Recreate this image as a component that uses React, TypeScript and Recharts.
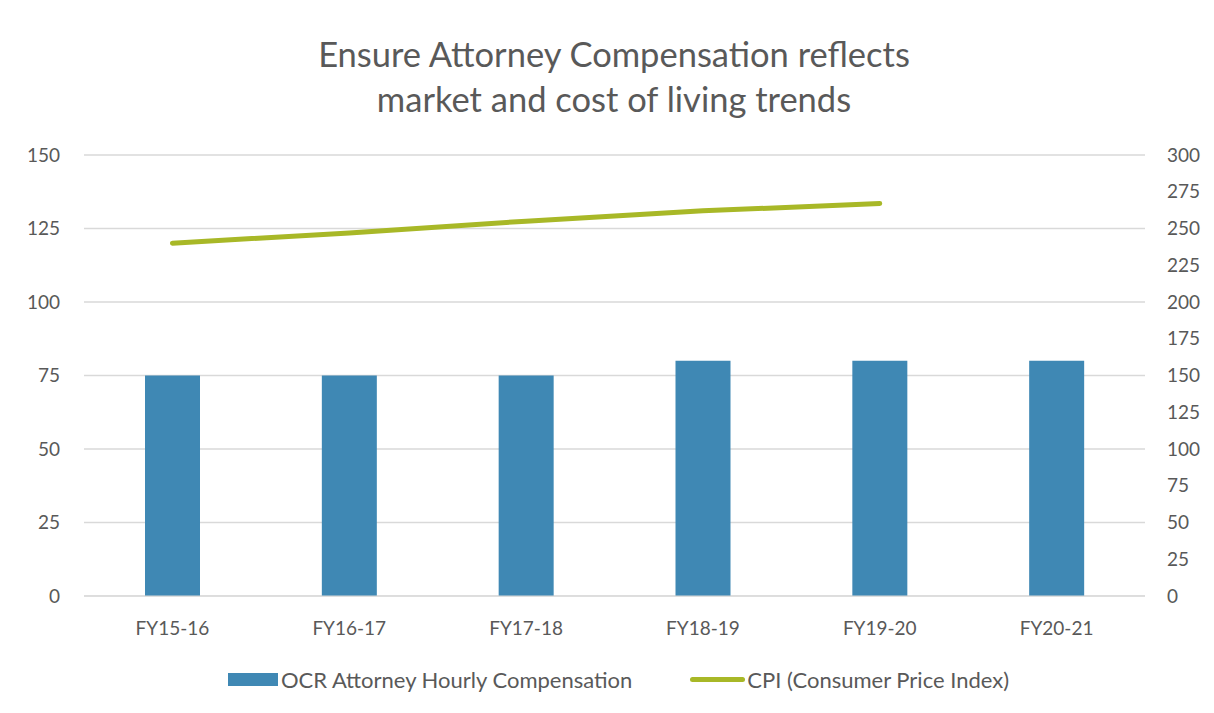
import React from 'react';
import { ComposedChart, Bar, Line, XAxis, YAxis, CartesianGrid, Legend } from 'recharts';

const fiscalYears = ['FY15-16', 'FY16-17', 'FY17-18', 'FY18-19', 'FY19-20', 'FY20-21'];
const hourlyComp = [75, 75, 75, 80, 80, 80];
const cpi: (number | null)[] = [240, 247, 255, 262, 267, null];
const leftTicks = [0, 25, 50, 75, 100, 125, 150];
const rightTicks = [0, 25, 50, 75, 100, 125, 150, 175, 200, 225, 250, 275, 300];

const data = fiscalYears.map((fy, i) => ({ fy, comp: hourlyComp[i], cpi: cpi[i] }));

const FONT = 'Lato, "Open Sans", sans-serif';
const TEXT = '#595959';
const BLUE = '#3F88B4';
const GREEN = '#A8B827';

function LegendContent() {
    return (
        <div style={{ display: 'flex', justifyContent: 'center', alignItems: 'center', fontFamily: FONT, fontSize: 22, color: TEXT, paddingLeft: 16 }}>
            <span style={{ display: 'inline-block', width: 50, height: 13, background: BLUE, marginRight: 3 }} />
            <span style={{ marginRight: 58 }}>OCR Attorney Hourly Compensation</span>
            <span style={{ display: 'inline-block', width: 55, height: 5, borderRadius: 3, background: GREEN, marginRight: 2 }} />
            <span>CPI (Consumer Price Index)</span>
        </div>
    );
}

export default function App() {
    return (
        <div style={{ position: 'relative', width: 1206, height: 713, marginLeft: -1, marginTop: -8, border: '1px solid #d9d9d9', borderBottom: 'none', boxSizing: 'border-box', background: '#fff' }}>
            <div style={{ position: 'absolute', top: 30, left: 0, width: 1212, textAlign: 'center', fontFamily: FONT, fontSize: 34.5, color: TEXT, lineHeight: '45px' }}>
                Ensure Attorney Compensation reflects<br />market and cost of living trends
            </div>
            <ComposedChart
                width={1205}
                height={701}
                data={data}
                margin={{ top: 154, right: 0, bottom: 0, left: 0 }}
                style={{ position: 'absolute', top: 0, left: 0 }}
            >
                <CartesianGrid yAxisId="left" vertical={false} stroke="#d9d9d9" strokeWidth={1.3} />
                <XAxis
                    dataKey="fy"
                    axisLine={{ stroke: '#d9d9d9' }}
                    tickLine={false}
                    tickSize={0}
                    tickMargin={26}
                    height={70}
                    tick={{ fill: TEXT, fontSize: 19, fontFamily: FONT }}
                />
                <YAxis
                    yAxisId="left"
                    domain={[0, 150]}
                    ticks={leftTicks}
                    axisLine={false}
                    tickLine={false}
                    tickSize={0}
                    tickMargin={24}
                    width={76}
                    tick={{ fill: TEXT, fontSize: 19, fontFamily: FONT }}
                />
                <YAxis
                    yAxisId="right"
                    orientation="right"
                    domain={[0, 300]}
                    ticks={rightTicks}
                    axisLine={false}
                    tickLine={false}
                    tickSize={0}
                    tickMargin={22}
                    width={68}
                    tick={{ fill: TEXT, fontSize: 19, fontFamily: FONT, textAnchor: 'start' }}
                />
                <Legend verticalAlign="bottom" height={36} content={<LegendContent />} />
                <Bar yAxisId="left" dataKey="comp" name="OCR Attorney Hourly Compensation" fill={BLUE} barSize={55} isAnimationActive={false} />
                <Line
                    yAxisId="right"
                    dataKey="cpi"
                    name="CPI (Consumer Price Index)"
                    type="linear"
                    stroke={GREEN}
                    strokeWidth={5}
                    strokeLinecap="round"
                    dot={false}
                    activeDot={false}
                    isAnimationActive={false}
                />
            </ComposedChart>
        </div>
    );
}
